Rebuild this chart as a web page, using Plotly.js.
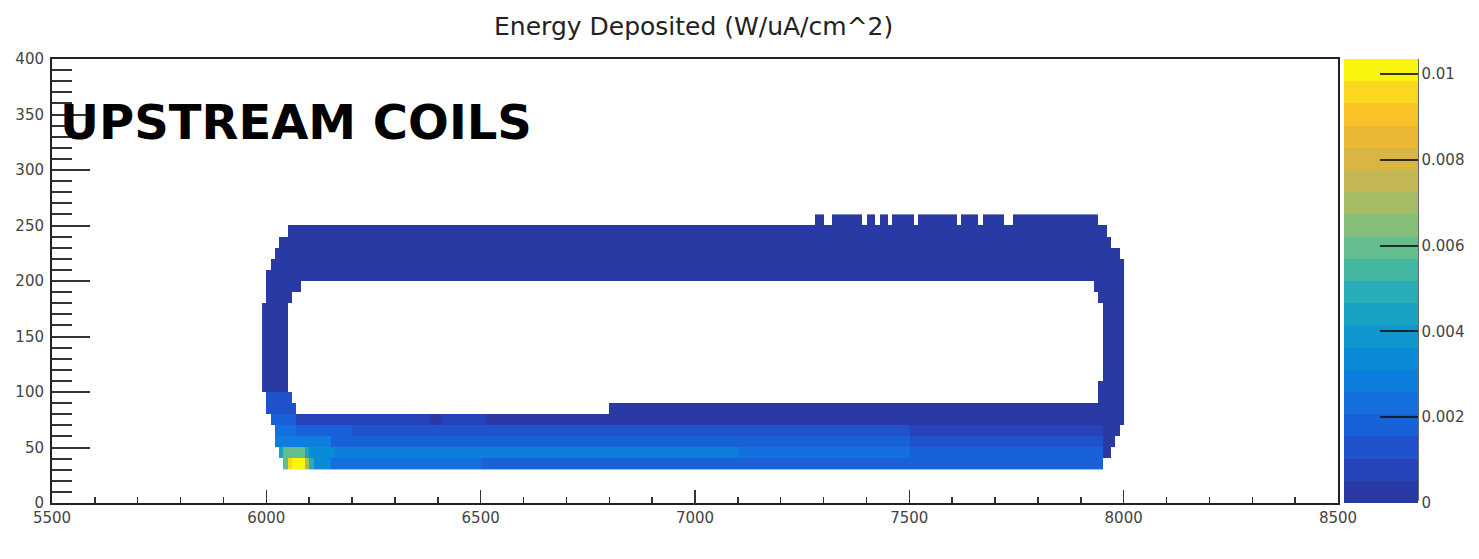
<!DOCTYPE html>
<html>
<head>
<meta charset="utf-8">
<script src="https://cdn.plot.ly/plotly-3.0.1.min.js"></script>
<style>html,body{margin:0;padding:0;background:#fff;}#chart{width:1479px;height:559px;}</style>
</head>
<body>
<div id="chart"></div>
<script>
// ---- histogram binning (mm, bins of 10 x 10) ----
const firstBinLeftEdge = 5990;
const xBinWidth = 10;
const nXBins = 201;
const rowLowEdge = [30, 40, 50, 60, 70, 80, 90, 100, 110, 120, 130, 140, 150, 160, 170, 180, 190, 200, 210, 220, 230, 240, 250];
const yBinHeight = 10;

// ---- filled runs per row: [xFrom, xTo, value W/uA/cm^2] ----
const row30  = [[6040,6050,0.0062],[6050,6060,0.0096],[6060,6090,0.0103],[6090,6100,0.0070],[6100,6110,0.0048],[6110,6150,0.0032],[6150,6500,0.0022],[6500,7100,0.0020],[7100,7500,0.0018],[7500,7950,0.0016]];
const row40  = [[6030,6040,0.0042],[6040,6090,0.0058],[6090,6100,0.0045],[6100,6160,0.0034],[6160,6500,0.0028],[6500,7100,0.0026],[7100,7500,0.0023],[7500,7950,0.0019],[7950,7970,0.0002]];
const row50  = [[6020,6060,0.0030],[6060,6150,0.0026],[6150,6500,0.0020],[6500,7100,0.0018],[7100,7500,0.0016],[7500,7950,0.0014],[7950,7980,0.0002]];
const row60  = [[6020,6070,0.0024],[6070,6200,0.0017],[6200,6800,0.0013],[6800,7500,0.0011],[7500,7950,0.0008],[7950,7990,0.0002]];
const row70  = [[6010,6070,0.0018],[6070,6380,0.0009],[6380,6410,0.0003],[6410,6510,0.0008],[6510,7200,0.0004],[7200,8000,0.0002]];
const row80  = [[6000,6070,0.0015],[6800,8000,0.0002]];
const row90  = [[6000,6060,0.0011],[7940,8000,0.0002]];
const row100 = [[5990,6050,0.0002],[7940,8000,0.0002]];
const rowMid = [[5990,6050,0.0002],[7950,8000,0.0002]];
const row180 = [[6000,6060,0.0002],[7940,8000,0.0002]];
const row190 = [[6000,6080,0.0002],[7930,8000,0.0002]];
const row200 = [[6000,8000,0.0002]];
const row210 = [[6010,8000,0.0002]];
const row220 = [[6020,7990,0.0002]];
const row230 = [[6030,7970,0.0002]];
const row240 = [[6050,7960,0.0002]];
const row250 = [[7280,7300,0.0002],[7320,7390,0.0002],[7400,7420,0.0002],[7430,7450,0.0002],[7460,7510,0.0002],[7520,7610,0.0002],[7620,7660,0.0002],[7670,7720,0.0002],[7740,7940,0.0002]];
const rowRuns = [row30,row40,row50,row60,row70,row80,row90,row100,rowMid,rowMid,rowMid,rowMid,rowMid,rowMid,rowMid,row180,row190,row200,row210,row220,row230,row240,row250];

// ---- palette (20 contour levels) and colorbar ticks ----
const bandColors = ['rgb(42,58,165)','rgb(38,68,185)','rgb(31,82,203)','rgb(25,97,216)','rgb(20,112,222)','rgb(14,126,222)','rgb(10,139,216)','rgb(14,152,206)','rgb(24,163,196)','rgb(40,173,182)','rgb(68,183,162)','rgb(100,189,140)','rgb(132,190,120)','rgb(165,188,100)','rgb(196,184,84)','rgb(217,181,68)','rgb(236,184,52)','rgb(249,195,40)','rgb(250,216,30)','rgb(250,245,12)'];
const zMin = 0, zMax = 0.01035;
const cbTickVals = [0, 0.002, 0.004, 0.006, 0.008, 0.01];
const cbTickText = ['0', '0.002', '0.004', '0.006', '0.008', '0.01'];

// build z matrix from runs
const z = rowRuns.map(runs => {
  const r = new Array(nXBins).fill(null);
  runs.forEach(([a, b, v]) => {
    for (let i = Math.round((a - firstBinLeftEdge) / xBinWidth); i < Math.round((b - firstBinLeftEdge) / xBinWidth); i++) r[i] = v;
  });
  return r;
});

const colorscale = [];
bandColors.forEach((c, k) => {
  colorscale.push([k / bandColors.length, c]);
  colorscale.push([(k + 1) / bandColors.length, c]);
});

const tickFont = {family: 'DejaVu Sans', size: 15, color: '#444'};

const trace = {
  type: 'heatmap',
  z: z,
  x0: firstBinLeftEdge + xBinWidth / 2, dx: xBinWidth,
  y0: rowLowEdge[0] + yBinHeight / 2, dy: yBinHeight,
  zmin: zMin, zmax: zMax,
  colorscale: colorscale,
  zsmooth: false,
  hoverongaps: false,
  colorbar: {
    x: 1.0047, xanchor: 'left', y: 0.5, yanchor: 'middle',
    len: 1, lenmode: 'fraction', thickness: 74, thicknessmode: 'pixels',
    xpad: 0, ypad: 0, outlinewidth: 0,
    ticks: 'inside', ticklen: 38, tickwidth: 2, tickcolor: 'rgba(20,20,20,0.85)',
    tickmode: 'array', tickvals: cbTickVals, ticktext: cbTickText,
    tickfont: tickFont
  }
};

const layout = {
  width: 1479, height: 559,
  margin: {l: 52, r: 141, t: 59, b: 56, autoexpand: false},
  paper_bgcolor: '#fff', plot_bgcolor: '#fff',
  showlegend: false,
  title: {text: 'Energy Deposited (W/uA/cm^2)', font: {family: 'DejaVu Sans', size: 25, color: '#222'}, x: 0.469, xanchor: 'center', y: 0.953, yanchor: 'middle'},
  xaxis: {
    range: [5500, 8500], tick0: 5500, dtick: 500,
    ticks: 'inside', ticklen: 13, tickwidth: 1.5, tickcolor: '#333',
    minor: {ticks: 'inside', dtick: 100, ticklen: 6, tickwidth: 1.5, tickcolor: '#333'},
    showline: true, linecolor: '#222', linewidth: 2, mirror: true,
    showgrid: false, zeroline: false, tickfont: tickFont
  },
  yaxis: {
    range: [0, 400], tick0: 0, dtick: 50,
    ticks: 'inside', ticklen: 38, tickwidth: 2, tickcolor: '#333',
    minor: {ticks: 'inside', dtick: 10, ticklen: 20, tickwidth: 2, tickcolor: '#333'},
    showline: true, linecolor: '#222', linewidth: 2, mirror: true,
    showgrid: false, zeroline: false, tickfont: tickFont,
    ticklabelstandoff: 3
  },
  shapes: [
    {type: 'line', xref: 'paper', yref: 'paper', x0: 1.0622, x1: 1.0622, y0: 0.005, y1: 1.0, line: {color: '#333', width: 1.5}}
  ],
  annotations: [
    {text: 'UPSTREAM COILS', xref: 'x', yref: 'y', x: 5513, y: 343, xanchor: 'left', yanchor: 'middle', showarrow: false,
     font: {family: 'DejaVu Sans', size: 48, color: '#000', weight: 'bold'}}
  ]
};

Plotly.newPlot('chart', [trace], layout, {displayModeBar: false, staticPlot: true});
</script>
</body>
</html>
